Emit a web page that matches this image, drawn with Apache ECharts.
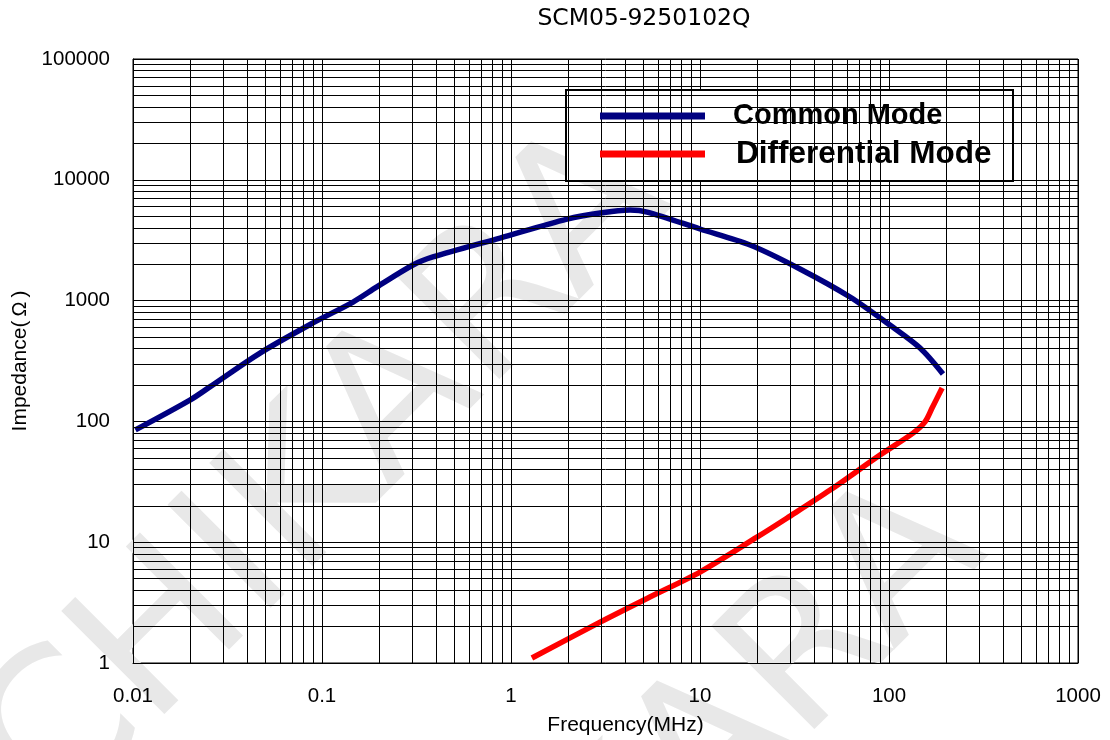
<!DOCTYPE html>
<html><head><meta charset="utf-8">
<script src="https://cdn.jsdelivr.net/npm/echarts@6/dist/echarts.min.js"></script>
<style>html,body{margin:0;padding:0;background:#fff}#c{width:1110px;height:740px}</style>
</head><body><div id="c"></div>
<script>
const chartTitle = 'SCM05-9250102Q';
const seriesNames = ['Common Mode', 'Differential Mode'];
const xName = 'Frequency(MHz)';
const yNameParts = ['Impedance(', 'Ω', ')'];
// Common mode impedance curve (MHz, Ohm)
const cmFreq = [0.0103, 0.02, 0.0255, 0.047, 0.0896, 0.146, 0.195, 0.303, 0.386, 0.875, 1.98, 2.96, 4.27, 5.25, 10, 18.4, 33.8, 62.2, 101, 146, 193];
const cmImp  = [85, 150, 193, 368, 653, 973, 1297, 1972, 2296, 3296, 4730, 5310, 5620, 5410, 3915, 2885, 1828, 1071, 628, 405, 247];
// Differential mode impedance curve (MHz, Ohm)
const dmFreq = [1.29, 2.96, 5.43, 10, 20, 28.8, 48.8, 89.6, 134, 155, 169, 191];
const dmImp  = [1.1, 2.18, 3.52, 5.66, 11.0, 15.8, 27, 52.7, 80, 99, 129, 189];
// axis ticks
const xTicks = [0.01, 0.1, 1, 10, 100, 1000];
const yTicks = [1, 10, 100, 1000, 10000, 100000];
const minorSteps = [2, 3, 4, 5, 6, 7, 8, 9];
const watermark = 'CHIKARA';

const xMinor = [];
xTicks.slice(0, -1).forEach(d => minorSteps.forEach(m => xMinor.push(+(d * m).toPrecision(4))));
const yMinor = [];
yTicks.slice(0, -1).forEach(d => minorSteps.forEach(m => yMinor.push(+(d * m).toPrecision(4))));

const fmt = v => String(+(+v).toPrecision(6));
const chart = echarts.init(document.getElementById('c'), null, {renderer: 'canvas'});
const font = "'Liberation Sans', Arial, sans-serif";
chart.setOption({
  animation: false,
  backgroundColor: '#fff',
  grid: {left: 133, right: 32, top: 59, bottom: 77, containLabel: false, outerBoundsMode: 'none',
         show: true, borderColor: '#000', borderWidth: 1, backgroundColor: 'transparent'},
  xAxis: {
    type: 'log', logBase: 10, min: 0.01, max: 1000,
    name: xName, nameLocation: 'middle', nameGap: 52,
    nameTextStyle: {fontFamily: font, fontSize: 21, color: '#000', padding: [0, 0, 0, 40]},
    axisLine: {lineStyle: {color: '#000', width: 1}},
    axisTick: {show: false},
    axisLabel: {formatter: fmt, fontFamily: font, fontSize: 20.5, color: '#000', margin: 23},
    splitLine: {show: true, lineStyle: {color: '#000', width: 1}},
    minorTick: {show: false}, minorSplitLine: {show: false}
  },
  yAxis: {
    type: 'log', logBase: 10, min: 1, max: 100000,
    name: '{a|' + yNameParts[0] + '}{b|' + yNameParts[1] + '}{a|' + yNameParts[2] + '}',
    nameLocation: 'middle', nameGap: 102, nameRotate: 90,
    nameTextStyle: {fontFamily: font, fontSize: 21, color: '#000',
      rich: {a: {fontFamily: font, fontSize: 21, color: '#000'}, b: {fontFamily: font, fontSize: 20, color: '#000', padding: [0, 4, 0, 4]}}},
    axisLine: {lineStyle: {color: '#000', width: 1}},
    axisTick: {show: false},
    axisLabel: {formatter: fmt, fontFamily: font, fontSize: 20.5, color: '#000', margin: 23},
    splitLine: {show: true, lineStyle: {color: '#000', width: 1}}
  },
  legend: {
    orient: 'vertical', left: 600, top: 101, padding: 0, itemGap: 7,
    itemWidth: 105, itemHeight: 7, icon: 'rect', selectedMode: false,
    data: [
      {name: seriesNames[0], textStyle: {fontFamily: font, fontWeight: 'bold', fontSize: 29, color: '#000', lineHeight: 30, padding: [0, 0, 0, 23]}},
      {name: seriesNames[1], textStyle: {fontFamily: font, fontWeight: 'bold', fontSize: 31.5, color: '#000', lineHeight: 30, padding: [0, 0, 0, 26]}}
    ],
    z: 10
  },
  graphic: [
    {type: 'text', z: 0, x: 15, y: 790, rotation: Math.PI / 4,
     style: {text: watermark, font: "200px 'DejaVu Sans'", fill: '#e8e8e8', textVerticalAlign: 'middle'}},
    {type: 'text', z: 0, x: 330, y: 1140, rotation: Math.PI / 4,
     style: {text: watermark, font: "200px 'DejaVu Sans'", fill: '#e8e8e8', textVerticalAlign: 'middle'}},
    {type: 'rect', z: 5, shape: {x: 566, y: 90, width: 447, height: 91},
     style: {fill: '#fff', stroke: '#000', lineWidth: 2}},
    {type: 'text', z: 5, x: 644, y: 19,
     style: {text: chartTitle, font: "23.5px 'DejaVu Sans'", fill: '#000', textAlign: 'center', textVerticalAlign: 'middle'}}
  ],
  series: [
    {type: 'line', name: '_grid', data: [[xTicks[0], yTicks[0]]], showSymbol: false, symbol: 'none', z: 1,
     lineStyle: {opacity: 0}, silent: true,
     markLine: {silent: true, symbol: 'none', animation: false, label: {show: false},
       lineStyle: {color: '#000', width: 1, type: 'solid'}, emphasis: {disabled: true},
       data: xMinor.map(v => ({xAxis: v})).concat(yMinor.map(v => ({yAxis: v})))}},
    {type: 'line', name: seriesNames[0], data: cmFreq.map((f, i) => [f, cmImp[i]]), smooth: 0.3, showSymbol: false, symbol: 'none', z: 3,
     color: '#000080', lineStyle: {color: '#000080', width: 5.5}, itemStyle: {color: '#000080'}},
    {type: 'line', name: seriesNames[1], data: dmFreq.map((f, i) => [f, dmImp[i]]), smooth: 0.3, showSymbol: false, symbol: 'none', z: 3,
     color: '#ff0000', lineStyle: {color: '#ff0000', width: 5.5}, itemStyle: {color: '#ff0000'}}
  ]
});
</script></body></html>
